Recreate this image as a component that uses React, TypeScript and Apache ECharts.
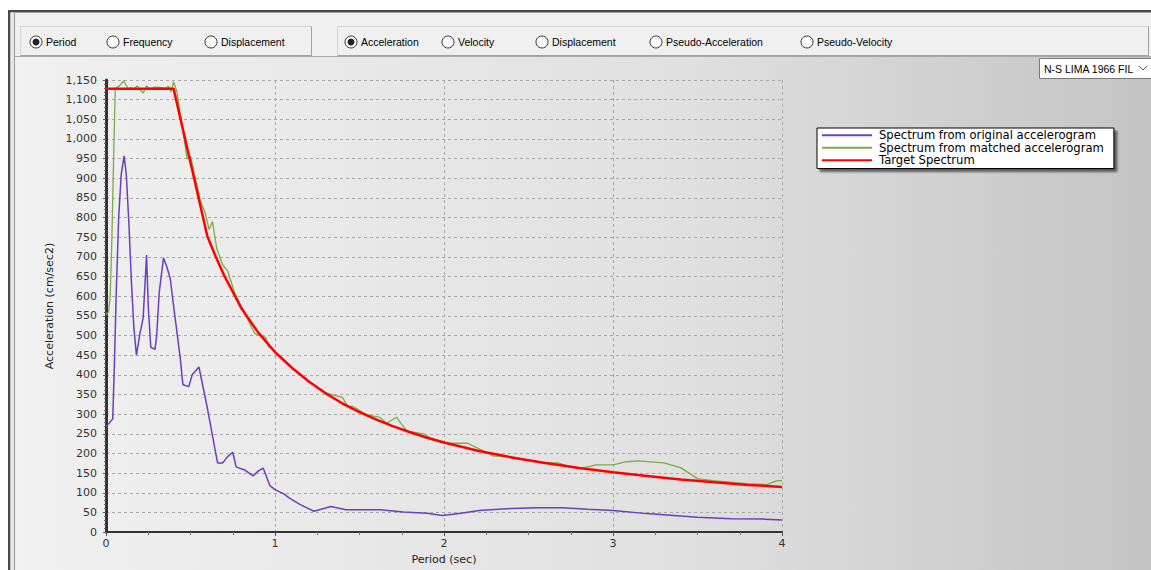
import React, { useEffect, useRef } from "react";
import * as echarts from "echarts";

// ---- Data ----
const seriesNames = [
  "Spectrum from original accelerogram",
  "Spectrum from matched accelerogram",
  "Target Spectrum",
];

// [period (sec), acceleration (cm/sec2)]
const originalSpectrum: [number, number][] = [
  [0, 268], [0.04, 288], [0.05, 430], [0.06, 600], [0.075, 800], [0.09, 910],
  [0.107, 957], [0.12, 910], [0.135, 790], [0.15, 640], [0.165, 520], [0.18, 450],
  [0.2, 503], [0.22, 545], [0.24, 705], [0.25, 575], [0.265, 470], [0.29, 465],
  [0.3, 500], [0.315, 610], [0.34, 697], [0.36, 675], [0.38, 645], [0.4, 575],
  [0.42, 508], [0.44, 440], [0.455, 375], [0.49, 370], [0.51, 400], [0.55, 420],
  [0.6, 315], [0.66, 176], [0.69, 176], [0.72, 192], [0.75, 203], [0.77, 166],
  [0.82, 158], [0.87, 143], [0.9, 155], [0.93, 163], [0.97, 118], [1.0, 108],
  [1.05, 98], [1.09, 85], [1.15, 70], [1.23, 53], [1.33, 65], [1.42, 57],
  [1.62, 57], [1.76, 51], [1.9, 48], [1.99, 42], [2.1, 48], [2.21, 55],
  [2.4, 60], [2.55, 62], [2.7, 62], [2.85, 58], [3.0, 55], [3.2, 47],
  [3.5, 38], [3.7, 34], [3.9, 33], [4.0, 31],
];

const matchedSpectrum: [number, number][] = [
  [0, 553], [0.015, 560], [0.025, 600], [0.035, 750], [0.045, 950], [0.055, 1128],
  [0.08, 1135], [0.105, 1148], [0.13, 1128], [0.15, 1130], [0.165, 1127], [0.185, 1135],
  [0.2, 1126], [0.22, 1117], [0.24, 1135], [0.26, 1128], [0.29, 1132], [0.32, 1131],
  [0.35, 1129], [0.37, 1134], [0.385, 1120], [0.4, 1145], [0.42, 1120], [0.44, 1060],
  [0.46, 1007], [0.48, 949], [0.5, 957], [0.52, 916], [0.545, 870], [0.56, 840],
  [0.585, 815], [0.61, 770], [0.63, 790], [0.655, 722], [0.69, 680], [0.72, 664],
  [0.76, 610], [0.8, 575], [0.84, 540], [0.88, 505], [0.92, 500], [0.945, 495],
  [0.96, 472], [1.0, 460], [1.1, 418], [1.165, 395], [1.28, 357], [1.4, 342],
  [1.43, 320], [1.46, 320], [1.54, 299], [1.62, 292], [1.66, 277], [1.72, 292],
  [1.78, 257], [1.88, 250], [1.92, 239], [2.02, 226], [2.14, 226], [2.21, 211],
  [2.29, 194], [2.41, 191], [2.57, 176], [2.67, 176], [2.8, 161], [2.9, 171],
  [3.0, 171], [3.08, 179], [3.15, 181], [3.3, 176], [3.4, 164], [3.5, 136],
  [3.59, 131], [3.79, 123], [3.91, 121], [3.97, 131], [4.0, 131],
];

const targetSpectrum: [number, number][] = [
  [0, 1128], [0.4, 1128], [0.6, 752], [0.65, 700], [0.7, 652], [0.8, 570],
  [0.9, 508], [1.0, 458], [1.1, 418], [1.2, 383], [1.3, 353], [1.4, 327],
  [1.5, 305], [1.6, 286], [1.7, 269], [1.8, 254], [1.9, 240], [2.0, 228],
  [2.2, 207], [2.4, 190], [2.6, 176], [2.8, 163], [3.0, 152], [3.2, 143],
  [3.4, 134], [3.6, 127], [3.8, 120], [4.0, 115],
];

const domainOptions = ["Period", "Frequency", "Displacement"];
const domainSelected = 0;
const quantityOptions = [
  "Acceleration", "Velocity", "Displacement", "Pseudo-Acceleration", "Pseudo-Velocity",
];
const quantitySelected = 0;
const domainRadioX = [36, 113, 211];
const quantityRadioX = [351, 448, 542, 656, 807];
const recordName = "N-S LIMA 1966 FIL";

const xAxisName = "Period (sec)";
const yAxisName = "Acceleration (cm/sec2)";

export default function App() {
  const ref = useRef<HTMLDivElement>(null);

  useEffect(() => {
    if (!ref.current) return;
    const chart = echarts.init(ref.current, null, { renderer: "svg" });
    const uiFont = "Liberation Sans";

    const radio = (cx: number, label: string, selected: boolean) => {
      const els: any[] = [
        {
          type: "circle",
          shape: { cx, cy: 42, r: 6 },
          style: { fill: "#ffffff", stroke: "#333333", lineWidth: 1 },
          z: 10,
        },
        {
          type: "text",
          x: cx + 10,
          y: 42,
          style: {
            text: label, fill: "#000000", fontSize: 10.5, fontFamily: uiFont,
            verticalAlign: "middle", align: "left",
          },
          z: 10,
        },
      ];
      if (selected) {
        els.push({
          type: "circle",
          shape: { cx, cy: 42, r: 3.5 },
          style: { fill: "#222222" },
          z: 11,
        });
      }
      return els;
    };

    const graphics: any[] = [
      // panel background gradient
      {
        type: "rect",
        shape: { x: 0, y: 0, width: 1151, height: 570 },
        style: {
          fill: new echarts.graphic.LinearGradient(0, 0, 1, 0, [
            { offset: 0, color: "#f1f1f1" },
            { offset: 0.6, color: "#e0e0e0" },
            { offset: 1, color: "#c4c4c4" },
          ]),
        },
        z: -100,
        silent: true,
      },
      // toolbar band
      {
        type: "rect",
        shape: { x: 0, y: 12, width: 1151, height: 45 },
        style: { fill: "#f0f0f0" },
        z: -90,
      },
      {
        type: "line",
        shape: { x1: 14, y1: 56.5, x2: 1151, y2: 56.5 },
        style: { stroke: "#a8a8a8", lineWidth: 1 },
        z: -80,
      },
      // top white strip + dark border
      {
        type: "rect",
        shape: { x: 0, y: 0, width: 1151, height: 10 },
        style: { fill: "#ffffff" },
        z: -80,
      },
      {
        type: "rect",
        shape: { x: 8, y: 10, width: 1143, height: 2.5 },
        style: { fill: "#4a4a4a" },
        z: -70,
      },
      {
        type: "rect",
        shape: { x: 0, y: 10, width: 8, height: 560 },
        style: { fill: "#ffffff" },
        z: -70,
      },
      {
        type: "rect",
        shape: { x: 8, y: 10, width: 2.5, height: 560 },
        style: { fill: "#4a4a4a" },
        z: -70,
      },
      {
        type: "rect",
        shape: { x: 10.5, y: 12.5, width: 4, height: 558 },
        style: { fill: "#e8e8e8" },
        z: -70,
      },
      {
        type: "line",
        shape: { x1: 14.5, y1: 12.5, x2: 14.5, y2: 570 },
        style: { stroke: "#9a9a9a", lineWidth: 1 },
        z: -70,
      },
      // group boxes
      {
        type: "rect",
        shape: { x: 20.5, y: 26.5, width: 291, height: 29 },
        style: { fill: "#f0f0f0", stroke: "#d4d4d4", lineWidth: 1 },
        z: -60,
      },
      {
        type: "line",
        shape: { x1: 20.5, y1: 55.5, x2: 312, y2: 55.5 },
        style: { stroke: "#a0a0a0", lineWidth: 1 },
        z: -59,
      },
      {
        type: "line",
        shape: { x1: 311.5, y1: 26.5, x2: 311.5, y2: 56 },
        style: { stroke: "#a0a0a0", lineWidth: 1 },
        z: -59,
      },
      {
        type: "rect",
        shape: { x: 337.5, y: 26.5, width: 811, height: 29 },
        style: { fill: "#f0f0f0", stroke: "#d4d4d4", lineWidth: 1 },
        z: -60,
      },
      {
        type: "line",
        shape: { x1: 337.5, y1: 55.5, x2: 1149, y2: 55.5 },
        style: { stroke: "#a0a0a0", lineWidth: 1 },
        z: -59,
      },
      {
        type: "line",
        shape: { x1: 1148.5, y1: 26.5, x2: 1148.5, y2: 56 },
        style: { stroke: "#a0a0a0", lineWidth: 1 },
        z: -59,
      },
      // dropdown
      {
        type: "rect",
        shape: { x: 1039.5, y: 58.5, width: 114, height: 20 },
        style: { fill: "#ffffff", stroke: "#7a7a7a", lineWidth: 1 },
        z: 20,
      },
      {
        type: "text",
        x: 1044,
        y: 68.5,
        style: {
          text: recordName, fill: "#000000", fontSize: 10.5, fontFamily: uiFont,
          verticalAlign: "middle", align: "left",
        },
        z: 21,
      },
      {
        type: "polyline",
        shape: { points: [[1139, 66], [1143, 70], [1147, 66]] },
        style: { stroke: "#555555", lineWidth: 1, fill: null },
        z: 21,
      },
    ];

    domainOptions.forEach((l, i) =>
      graphics.push(...radio(domainRadioX[i], l, i === domainSelected))
    );
    quantityOptions.forEach((l, i) =>
      graphics.push(...radio(quantityRadioX[i], l, i === quantitySelected))
    );

    const axisFont = "DejaVu Sans";

    chart.setOption({
      animation: false,
      textStyle: { fontFamily: axisFont },
      grid: { left: 106, right: 369, top: 80, bottom: 33, containLabel: false },
      graphic: graphics,
      legend: {
        orient: "vertical",
        left: 817,
        top: 128,
        padding: [1, 10, 2, 5],
        itemGap: 0,
        itemWidth: 50,
        itemHeight: 2,
        icon: "rect",
        backgroundColor: "#ffffff",
        borderColor: "#000000",
        borderWidth: 1,
        borderRadius: 0,
        shadowColor: "rgba(0,0,0,0.55)",
        shadowBlur: 2,
        shadowOffsetX: 3,
        shadowOffsetY: 3,
        textStyle: {
          fontFamily: axisFont, fontSize: 11.6, color: "#000000", lineHeight: 12.5,
          padding: [0, 0, 0, 2],
        },
        data: seriesNames,
      },
      xAxis: {
        type: "value",
        min: 0,
        max: 4,
        interval: 1,
        name: xAxisName,
        nameLocation: "middle",
        nameGap: 19,
        nameTextStyle: { fontFamily: axisFont, fontSize: 11, color: "#222222" },
        axisLine: { show: true, lineStyle: { color: "#333333", width: 2 } },
        axisTick: { show: true, length: 4, lineStyle: { color: "#555555" } },
        minorTick: { show: true, splitNumber: 4, length: 3, lineStyle: { color: "#777777" } },
        axisLabel: { fontFamily: axisFont, fontSize: 11, color: "#333333", margin: 6 },
        splitLine: {
          show: true,
          lineStyle: { color: "#a8a8a8", type: [3, 3], width: 1 },
        },
      },
      yAxis: {
        type: "value",
        min: 0,
        max: 1150,
        interval: 50,
        name: yAxisName,
        nameLocation: "middle",
        nameGap: 42,
        nameRotate: 90,
        nameTextStyle: { fontFamily: axisFont, fontSize: 11, color: "#222222" },
        axisLine: { show: true, lineStyle: { color: "#333333", width: 3 } },
        axisTick: { show: true, length: 3, lineStyle: { color: "#555555" } },
        minorTick: { show: true, splitNumber: 5, length: 2, lineStyle: { color: "#666666" } },
        axisLabel: {
          fontFamily: axisFont, fontSize: 11, color: "#333333", margin: 9,
          formatter: (v: number) => v.toLocaleString("en-US"),
        },
        splitLine: {
          show: true,
          lineStyle: { color: "#a8a8a8", type: [3, 3], width: 1 },
        },
      },
      series: [
        {
          name: seriesNames[0],
          type: "line",
          data: originalSpectrum,
          showSymbol: false,
          symbol: "none",
          color: "#6a40b8",
          lineStyle: { color: "#6a40b8", width: 1.5 },
          z: 3,
        },
        {
          name: seriesNames[1],
          type: "line",
          data: matchedSpectrum,
          showSymbol: false,
          symbol: "none",
          color: "#7bab45",
          lineStyle: { color: "#7bab45", width: 1.3 },
          z: 4,
        },
        {
          name: seriesNames[2],
          type: "line",
          data: targetSpectrum,
          showSymbol: false,
          symbol: "none",
          color: "#ff0000",
          lineStyle: { color: "#ff0000", width: 2.5 },
          z: 5,
        },
      ],
    });

    return () => chart.dispose();
  }, []);

  return (
    <div
      ref={ref}
      style={{ position: "absolute", left: 0, top: 0, width: 1151, height: 570 }}
    />
  );
}
